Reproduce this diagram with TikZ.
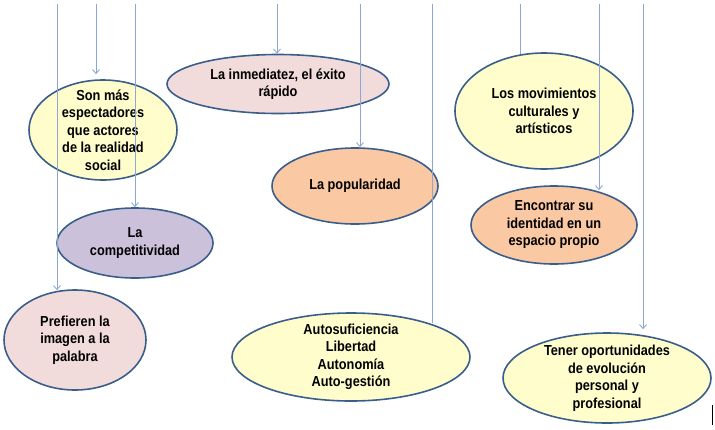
\documentclass[tikz,border=0pt]{standalone}
\usepackage{fontspec}
\setmainfont{Liberation Sans}[FakeStretch=0.88]
\usetikzlibrary{shapes.geometric,arrows.meta}
\definecolor{lnblue}{HTML}{8DA7D3}
\definecolor{bdblue}{HTML}{3A5E8C}
\definecolor{fyel}{HTML}{FEFDCB}
\definecolor{fpink}{HTML}{F2DCDB}
\definecolor{fpurp}{HTML}{CCC1DA}
\definecolor{forng}{HTML}{FAC8A2}
\begin{document}
\begin{tikzpicture}[x=1pt,y=-1pt,
  oval/.style={ellipse,draw=bdblue,line width=1.6pt,inner sep=0pt},
  txt/.style={align=center,font=\fontsize{14.5}{17.5}\selectfont\bfseries,inner sep=0pt},
  conn/.style={draw=lnblue,line width=0.9pt},
  arr/.style={conn,-{Straight Barb[length=4pt,width=7pt]}}]
\useasboundingbox (0,0) rectangle (715,429);
% ellipses
\node[oval,fill=fyel,minimum width=148pt,minimum height=100pt,label={[txt]center:Son más\\espectadores\\que actores\\de la realidad\\social}] (son) at (103,130) {};
\node[oval,fill=fpurp,minimum width=156pt,minimum height=70pt,label={[txt]center:La\\competitividad}] (comp) at (135,243) {};
\node[oval,fill=fpink,minimum width=142pt,minimum height=100pt,label={[txt]center:Prefieren la\\imagen a la\\palabra}] (pref) at (75,340) {};
\node[oval,fill=fpink,minimum width=222pt,minimum height=59pt,label={[txt]center:La inmediatez, el éxito\\rápido}] (inme) at (278,84) {};
\node[oval,fill=forng,minimum width=166pt,minimum height=76pt,label={[txt]center:La popularidad}] (popu) at (355,186) {};
\node[oval,fill=fyel,minimum width=238pt,minimum height=88pt,label={[txt]center:Autosuficiencia\\Libertad\\Autonomía\\Auto-gestión}] (auto) at (351,357) {};
\node[oval,fill=fyel,minimum width=178pt,minimum height=116pt,label={[txt]center:Los movimientos\\culturales y\\artísticos}] (movi) at (544,111) {};
\node[oval,fill=forng,minimum width=166pt,minimum height=78pt,label={[txt]center:Encontrar su\\identidad en un\\espacio propio}] (enco) at (554,225) {};
\node[oval,fill=fyel,minimum width=208pt,minimum height=90pt,label={[txt]center:Tener oportunidades\\de evolución\\personal y\\profesional}] (tene) at (607,378) {};
% line tops
\coordinate (t1) at (57,4);
\coordinate (t2) at (96,4);
\coordinate (t3) at (135,4);
\coordinate (t4) at (277,4);
\coordinate (t5) at (360,4);
\coordinate (t6) at (432,4);
\coordinate (t7) at (520,4);
\coordinate (t8) at (599,4);
\coordinate (t9) at (643,4);
% connectors
\draw[arr,shorten >=-1pt] (t1) -- (t1 |- pref.north);
\draw[arr,shorten >=5pt] (t2) -- (t2 |- son.north);
\draw[arr] (t3) -- (t3 |- comp.north);
\draw[arr] (t4) -- (t4 |- inme.north);
\draw[arr] (t5) -- (t5 |- popu.north);
\draw[conn,shorten >=-11pt] (t6) -- (t6 |- auto.north);
\draw[conn,shorten >=-2pt] (t7) -- (t7 |- movi.north);
\draw[arr,shorten >=-5pt] (t8) -- (t8 |- enco.north);
\draw[arr,shorten >=3pt] (t9) -- (t9 |- tene.north);
% small mark
\coordinate (m1) at (712.5,405);
\coordinate (m2) at (712.5,425);
\draw[line width=1.5pt] (m1) -- (m2);
\end{tikzpicture}
\end{document}
